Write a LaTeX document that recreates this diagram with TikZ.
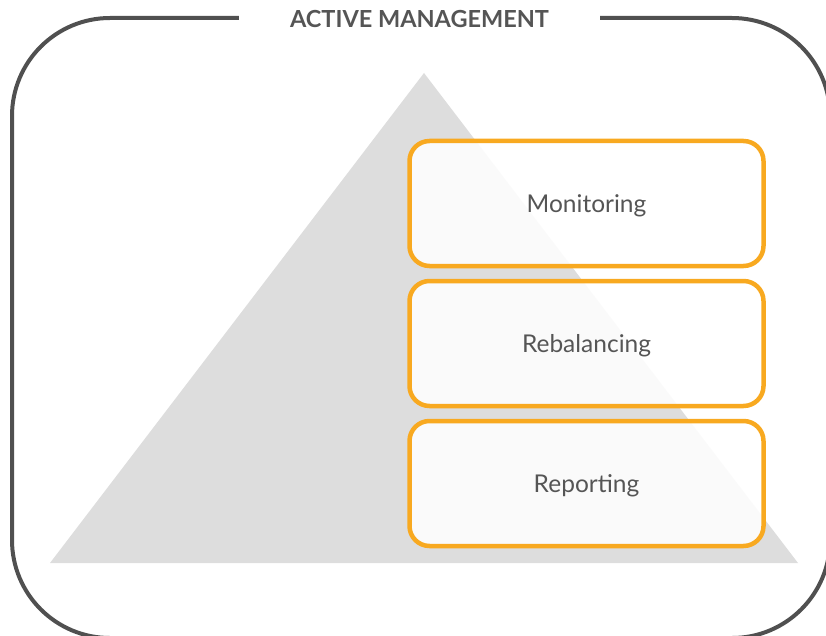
\documentclass[tikz,border=0pt]{standalone}
\usepackage{fontspec}
\setmainfont{Lato}
\usepackage{tikz}
\usetikzlibrary{positioning}
\definecolor{framegray}{HTML}{505050}
\definecolor{textgray}{HTML}{555555}
\definecolor{pyramidgray}{HTML}{DDDDDD}
\definecolor{stepamber}{HTML}{F8A920}
\tikzset{
  frame/.style={draw=framegray, line width=4pt, rounded corners=98pt},
  pyramid/.style={fill=pyramidgray},
  layer/.style={
    rectangle,
    draw=stepamber,
    line width=4.5pt,
    rounded corners=20pt,
    fill=white,
    fill opacity=0.88,
    text opacity=1,
    minimum width=354pt,
    minimum height=125pt,
    text height=17.5pt,
    text depth=0pt,
    text=textgray,
    font=\fontsize{24.5}{29}\selectfont
  }
}
\begin{document}
\begin{tikzpicture}[x=1pt, y=-1pt, node distance=10.5pt]
\useasboundingbox (0,0) rectangle (826,636);

% Pyramid in the background
\fill[pyramid] (50,563) -- (798,563) -- (424,73) -- cycle;

% Title and frame
\coordinate (top) at (0,18);
\node[inner xsep=51pt, inner ysep=0pt, text=textgray,
      font=\fontsize{23.5}{28}\selectfont\bfseries] (title) at (419.5,19.5) {ACTIVE MANAGEMENT};
\draw[frame] (title.east |- top) -- (830,18) -- (830,638) -- (12,638) -- (12,18) -- (title.west |- top);

% Layers
\node[layer] (monitoring) at (586.5,203.5) {Monitoring};
\node[layer, below=of monitoring] (rebalancing) {Rebalancing};
\node[layer, below=of rebalancing] (reporting) {Reporting};

\end{tikzpicture}
\end{document}
